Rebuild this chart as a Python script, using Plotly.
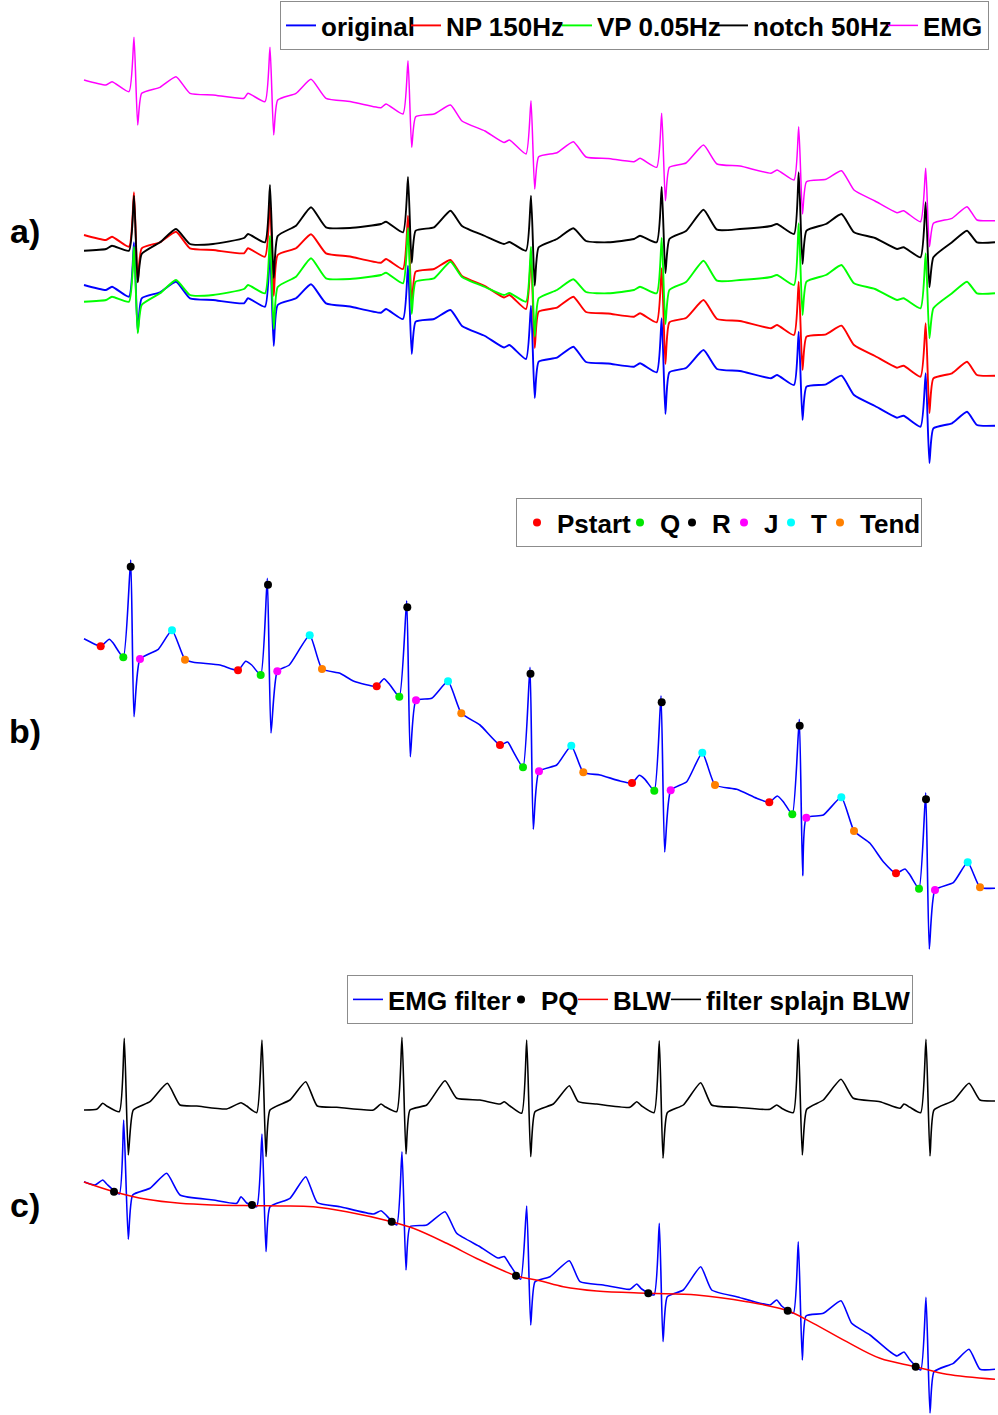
import plotly.graph_objects as go

# ---------------- Panel a) : raw + filtered signals (time in s, amplitude in mV) -------------
t_a = [0.00,
       0.22, 0.28, 0.45, 0.50, 0.537, 0.577, 0.76, 0.92, 1.06, 1.29,
       1.60, 1.64, 1.81, 1.86, 1.897, 1.937, 2.12, 2.27, 2.42, 2.66,
       2.97, 3.02, 3.19, 3.24, 3.277, 3.317, 3.50, 3.665, 3.78, 4.01,
       4.20, 4.255, 4.42, 4.47, 4.507, 4.547, 4.73, 4.893, 5.02, 5.24,
       5.50, 5.56, 5.727, 5.777, 5.814, 5.854, 6.02, 6.195, 6.33, 6.56,
       6.87, 6.93, 7.10, 7.147, 7.185, 7.225, 7.42, 7.575, 7.70, 7.91,
       8.13, 8.195, 8.365, 8.417, 8.454, 8.494, 8.68, 8.83, 8.93, 9.11]

original = [-0.35,
            -0.40, -0.367, -0.467, 0.077, -0.82, -0.483, -0.423, -0.317, -0.483, -0.50,
            -0.533, -0.483, -0.567, -0.023, -0.96, -0.55, -0.483, -0.343, -0.533, -0.565,
            -0.627, -0.59, -0.69, -0.157, -1.04, -0.717, -0.69, -0.60, -0.76, -0.86,
            -0.975, -0.95, -1.09, -0.557, -1.48, -1.117, -1.077, -0.967, -1.12, -1.135,
            -1.167, -1.133, -1.223, -0.683, -1.64, -1.223, -1.18, -1.00, -1.19, -1.21,
            -1.283, -1.25, -1.35, -0.817, -1.70, -1.367, -1.343, -1.257, -1.45, -1.56,
            -1.677, -1.657, -1.767, -1.233, -2.13, -1.783, -1.733, -1.617, -1.75, -1.757]

np_150hz = [0.15,
            0.10, 0.133, 0.033, 0.577, -0.32, 0.017, 0.077, 0.183, 0.017, 0.00,
            -0.033, 0.017, -0.067, 0.477, -0.46, -0.05, 0.017, 0.157, -0.033, -0.065,
            -0.127, -0.09, -0.19, 0.343, -0.54, -0.217, -0.19, -0.10, -0.26, -0.36,
            -0.475, -0.45, -0.59, -0.057, -0.98, -0.617, -0.577, -0.467, -0.62, -0.635,
            -0.667, -0.633, -0.723, -0.183, -1.14, -0.723, -0.68, -0.50, -0.69, -0.71,
            -0.783, -0.75, -0.85, -0.317, -1.20, -0.867, -0.843, -0.757, -0.95, -1.06,
            -1.177, -1.157, -1.267, -0.733, -1.63, -1.283, -1.233, -1.117, -1.25, -1.257]

vp_005hz = [-0.517,
            -0.50, -0.467, -0.517, 0.033, -0.833, -0.55, -0.433, -0.30, -0.45, -0.45,
            -0.39, -0.35, -0.433, 0.14, -0.79, -0.37, -0.267, -0.083, -0.283, -0.29,
            -0.25, -0.227, -0.333, 0.22, -0.64, -0.317, -0.283, -0.117, -0.27, -0.37,
            -0.45, -0.43, -0.517, 0.033, -0.867, -0.483, -0.40, -0.293, -0.42, -0.433,
            -0.40, -0.367, -0.433, 0.12, -0.74, -0.40, -0.32, -0.107, -0.307, -0.30,
            -0.27, -0.25, -0.35, 0.267, -0.65, -0.317, -0.25, -0.15, -0.333, -0.39,
            -0.50, -0.483, -0.583, -0.033, -0.883, -0.583, -0.433, -0.317, -0.433, -0.433]

notch_50hz = [-0.007,
              0.01, 0.043, -0.007, 0.543, -0.323, -0.04, 0.077, 0.21, 0.06, 0.06,
              0.12, 0.16, 0.077, 0.65, -0.28, 0.14, 0.243, 0.427, 0.227, 0.22,
              0.26, 0.283, 0.177, 0.73, -0.13, 0.193, 0.227, 0.393, 0.24, 0.14,
              0.06, 0.08, -0.007, 0.543, -0.357, 0.027, 0.11, 0.217, 0.09, 0.077,
              0.11, 0.143, 0.077, 0.63, -0.23, 0.11, 0.19, 0.403, 0.203, 0.21,
              0.24, 0.26, 0.16, 0.777, -0.14, 0.193, 0.26, 0.36, 0.177, 0.12,
              0.01, 0.027, -0.073, 0.477, -0.373, -0.073, 0.077, 0.193, 0.077, 0.077]

emg = [1.70,
       1.65, 1.683, 1.583, 2.127, 1.25, 1.567, 1.627, 1.733, 1.567, 1.55,
       1.517, 1.567, 1.483, 2.027, 1.15, 1.50, 1.567, 1.707, 1.517, 1.485,
       1.423, 1.46, 1.36, 1.893, 1.027, 1.333, 1.36, 1.45, 1.29, 1.19,
       1.075, 1.10, 0.96, 1.493, 0.61, 0.933, 0.973, 1.083, 0.93, 0.915,
       0.883, 0.917, 0.827, 1.367, 0.493, 0.827, 0.87, 1.05, 0.86, 0.84,
       0.767, 0.80, 0.70, 1.233, 0.36, 0.683, 0.707, 0.793, 0.60, 0.49,
       0.373, 0.393, 0.283, 0.817, 0.033, 0.267, 0.317, 0.433, 0.30, 0.293]

# ---------------- Panel b) : detected fiducial points -------------
t_b = [0.00, 0.127, 0.167, 0.253, 0.293, 0.393, 0.467, 0.50, 0.56, 0.743, 0.88, 1.01, 1.093, 1.36,
       1.54, 1.617, 1.677, 1.767, 1.833, 1.87, 1.933, 2.053, 2.257, 2.38, 2.56, 2.693,
       2.927, 3.00, 3.06, 3.153, 3.227, 3.263, 3.32, 3.477, 3.64, 3.773, 3.96,
       4.16, 4.237, 4.293, 4.39, 4.46, 4.493, 4.55, 4.727, 4.873, 4.993, 5.16, 5.36,
       5.48, 5.553, 5.61, 5.703, 5.77, 5.807, 5.867, 6.027, 6.183, 6.31, 6.527, 6.727,
       6.853, 6.933, 6.993, 7.083, 7.153, 7.187, 7.223, 7.393, 7.573, 7.70, 7.86, 7.993,
       8.12, 8.21, 8.26, 8.35, 8.417, 8.453, 8.51, 8.693, 8.837, 8.96, 9.11]
ecg_b = [0.613, 0.55, 0.537, 0.607, 0.567, 0.427, 1.40, -0.167, 0.41, 0.507, 0.697, 0.403, 0.377, 0.35,
         0.297, 0.387, 0.35, 0.25, 1.217, -0.33, 0.287, 0.35, 0.647, 0.31, 0.267, 0.19,
         0.137, 0.213, 0.15, 0.033, 0.993, -0.567, -0.003, 0.017, 0.187, -0.133, -0.25,
         -0.45, -0.42, -0.517, -0.673, 0.327, -1.293, -0.713, -0.65, -0.457, -0.723, -0.75, -0.81,
         -0.83, -0.753, -0.793, -0.907, 0.043, -1.52, -0.903, -0.817, -0.527, -0.85, -0.893, -0.983,
         -1.023, -0.96, -1.017, -1.143, -0.193, -1.757, -1.177, -1.15, -0.973, -1.31, -1.433, -1.617,
         -1.733, -1.69, -1.75, -1.887, -0.927, -2.49, -1.90, -1.827, -1.623, -1.873, -1.883]

pstart_t = [0.167, 1.54, 2.927, 4.16, 5.48, 6.853, 8.12]
pstart_v = [0.537, 0.297, 0.137, -0.45, -0.83, -1.023, -1.733]
q_t = [0.393, 1.767, 3.153, 4.39, 5.703, 7.083, 8.35]
q_v = [0.427, 0.25, 0.033, -0.673, -0.907, -1.143, -1.887]
r_t = [0.467, 1.84, 3.233, 4.465, 5.777, 7.157, 8.42]
r_v = [1.333, 1.153, 0.927, 0.263, -0.023, -0.257, -0.993]
j_t = [0.56, 1.933, 3.32, 4.55, 5.867, 7.223, 8.51]
j_v = [0.41, 0.287, -0.003, -0.713, -0.903, -1.177, -1.90]
tpk_t = [0.88, 2.257, 3.64, 4.873, 6.183, 7.573, 8.837]
tpk_v = [0.697, 0.647, 0.187, -0.457, -0.527, -0.973, -1.623]
tend_t = [1.01, 2.38, 3.773, 4.993, 6.31, 7.70, 8.96]
tend_v = [0.403, 0.31, -0.133, -0.723, -0.85, -1.31, -1.873]

# ---------------- Panel c) : baseline wander removal -------------
t_c_clean = [0.00, 0.127, 0.187, 0.227, 0.353, 0.403, 0.443, 0.493, 0.66, 0.833, 0.96, 1.127, 1.427,
             1.57, 1.627, 1.727, 1.78, 1.82, 1.86, 2.06, 2.217, 2.333, 2.527, 2.893,
             2.97, 3.01, 3.127, 3.18, 3.22, 3.26, 3.427, 3.61, 3.727, 3.96, 4.16,
             4.203, 4.26, 4.377, 4.427, 4.467, 4.51, 4.693, 4.853, 4.943, 5.127, 5.46,
             5.527, 5.577, 5.70, 5.753, 5.79, 5.833, 5.993, 6.167, 6.277, 6.527, 6.86,
             6.927, 6.977, 7.093, 7.143, 7.183, 7.227, 7.393, 7.57, 7.693, 7.96, 8.16,
             8.20, 8.26, 8.367, 8.42, 8.46, 8.50, 8.693, 8.85, 8.96, 9.11]
spline_filtered = [0.90, 0.907, 0.967, 0.94, 0.883, 1.617, 0.45, 0.90, 0.983, 1.167, 0.95, 0.94, 0.91,
                   0.973, 0.94, 0.873, 1.60, 0.433, 0.90, 1.00, 1.183, 0.94, 0.927, 0.90,
                   0.96, 0.933, 0.883, 1.627, 0.46, 0.90, 0.95, 1.193, 1.017, 1.00, 0.96,
                   0.983, 0.94, 0.867, 1.60, 0.433, 0.883, 0.96, 1.143, 0.983, 0.96, 0.927,
                   0.983, 0.94, 0.873, 1.593, 0.417, 0.873, 0.95, 1.173, 0.95, 0.927, 0.907,
                   0.95, 0.917, 0.873, 1.607, 0.45, 0.907, 1.00, 1.207, 1.017, 0.983, 0.917,
                   0.96, 0.927, 0.873, 1.607, 0.44, 0.90, 0.993, 1.167, 1.00, 0.99]

t_c_emg = [0.00, 0.11, 0.187, 0.227, 0.353, 0.397, 0.443, 0.487, 0.66, 0.827, 0.96, 1.293, 1.527,
           1.57, 1.627, 1.727, 1.78, 1.82, 1.86, 2.06, 2.217, 2.333, 2.56, 2.893,
           2.97, 3.01, 3.127, 3.18, 3.22, 3.26, 3.427, 3.61, 3.727, 3.96,
           4.14, 4.203, 4.26, 4.367, 4.427, 4.467, 4.51, 4.66, 4.853, 4.96, 5.193, 5.46,
           5.527, 5.577, 5.70, 5.753, 5.79, 5.833, 5.993, 6.167, 6.277, 6.527, 6.86,
           6.927, 6.977, 7.093, 7.143, 7.183, 7.22, 7.393, 7.57, 7.677, 7.86, 8.06,
           8.13, 8.20, 8.26, 8.367, 8.42, 8.46, 8.50, 8.693, 8.85, 8.96, 9.11]
emg_filtered = [0.183, 0.15, 0.20, 0.16, 0.06, 0.80, -0.393, 0.05, 0.117, 0.267, 0.05, 0.00, -0.033,
                0.033, -0.03, -0.067, 0.66, -0.517, -0.067, 0.017, 0.233, -0.027, -0.067, -0.14,
                -0.107, -0.14, -0.25, 0.483, -0.70, -0.267, -0.25, -0.117, -0.333, -0.467,
                -0.58, -0.565, -0.65, -0.793, -0.06, -1.25, -0.817, -0.767, -0.607, -0.817, -0.85, -0.893,
                -0.84, -0.89, -0.95, -0.233, -1.417, -0.967, -0.90, -0.667, -0.90, -0.967, -1.05,
                -1.00, -1.06, -1.133, -0.417, -1.60, -1.16, -1.133, -1.007, -1.233, -1.35, -1.517,
                -1.56, -1.52, -1.60, -1.70, -0.973, -2.13, -1.717, -1.633, -1.493, -1.693, -1.693]

t_c_blw = [0.00, 0.30, 0.627, 0.96, 1.293, 1.68, 1.96, 2.293, 2.627, 3.077, 3.293, 3.627, 3.96,
           4.32, 4.56, 4.793, 5.127, 5.643, 6.127, 6.627, 7.037, 7.293, 7.627, 7.96, 8.317, 8.627, 9.11]
blw = [0.18, 0.083, 0.007, -0.033, -0.05, -0.057, -0.06, -0.067, -0.117, -0.217, -0.283, -0.433, -0.60,
       -0.757, -0.807, -0.867, -0.91, -0.933, -0.95, -1.017, -1.107, -1.233, -1.417, -1.583, -1.667,
       -1.743, -1.793]

pq_t = [0.30, 1.68, 3.077, 4.32, 5.643, 7.037, 8.317]
pq_v = [0.083, -0.05, -0.217, -0.757, -0.933, -1.107, -1.667]

for a, b in [(t_a, original), (t_a, np_150hz), (t_a, vp_005hz), (t_a, notch_50hz), (t_a, emg),
             (t_b, ecg_b), (t_c_clean, spline_filtered), (t_c_emg, emg_filtered), (t_c_blw, blw)]:
    assert len(a) == len(b), (len(a), len(b))

# ---------------- figure -------------
W, H = 998, 1415
fig = go.Figure()
SM = 0.5  # light smoothing of the signal polylines

def line(x, y, name, color, yaxis, legend, width=1.5, smooth=SM, rank=1000, lw=None):
    fig.add_trace(go.Scatter(x=x, y=y, mode="lines", name=name, yaxis=yaxis, legend=legend,
                             line=dict(color=color, width=width, shape="spline", smoothing=smooth),
                             legendrank=rank, legendwidth=lw))

def dots(x, y, name, color, yaxis, legend, size=8, rank=1000, lw=None):
    fig.add_trace(go.Scatter(x=x, y=y, mode="markers", name=name, yaxis=yaxis, legend=legend,
                             marker=dict(color=color, size=size),
                             legendrank=rank, legendwidth=lw))

# a)
line(t_a, original, "original", "#0000ff", "y", "legend", width=1.9, lw=80)
line(t_a, np_150hz, "NP 150Hz", "#ff0000", "y", "legend", width=1.9, lw=106)
line(t_a, vp_005hz, "VP 0.05Hz", "#00ff00", "y", "legend", width=1.9, lw=111)
line(t_a, notch_50hz, "notch 50Hz", "#000000", "y", "legend", width=1.9, lw=125)
line(t_a, emg, "EMG", "#ff00ff", "y", "legend", width=1.5, lw=60)

# b)
fig.add_trace(go.Scatter(x=t_b, y=ecg_b, mode="lines", yaxis="y2", showlegend=False,
                         line=dict(color="#0000ff", width=1.6, shape="spline", smoothing=SM)))
dots(pstart_t, pstart_v, "Pstart", "#ff0000", "y2", "legend2", lw=58)
dots(q_t, q_v, "Q", "#00e600", "y2", "legend2", lw=7)
dots(r_t, r_v, "R", "#000000", "y2", "legend2", lw=7)
dots(j_t, j_v, "J", "#ff00ff", "y2", "legend2", lw=2)
dots(tpk_t, tpk_v, "T", "#00ffff", "y2", "legend2", lw=4)
dots(tend_t, tend_v, "Tend", "#ff8000", "y2", "legend2", lw=56)

# c)
line(t_c_clean, spline_filtered, "filter splajn BLW", "#000000", "y3", "legend3", width=1.6, rank=4, lw=201)
line(t_c_emg, emg_filtered, "EMG filter", "#0000ff", "y3", "legend3", width=1.6, rank=1, lw=108)
line(t_c_blw, blw, "BLW", "#ff0000", "y3", "legend3", width=1.5, smooth=1.0, rank=3, lw=48)
dots(pq_t, pq_v, "PQ", "#000000", "y3", "legend3", size=8, rank=2, lw=27)

def ydom(top_px, bot_px):
    return [1 - bot_px / H, 1 - top_px / H]

hidden = dict(visible=False, showgrid=False, zeroline=False, fixedrange=True)
leg_font = dict(family="Liberation Sans, Arial, sans-serif", size=26, color="black", weight="bold")
leg_common = dict(orientation="h", xanchor="right", yanchor="top", bgcolor="white",
                  bordercolor="#8c8c8c", borderwidth=1, font=leg_font, itemwidth=30,
                  tracegroupgap=0)

fig.update_layout(
    width=W, height=H, autosize=False,
    margin=dict(l=0, r=0, t=0, b=0, pad=0),
    paper_bgcolor="white", plot_bgcolor="white",
    xaxis=dict(domain=[83 / W, 995 / W], range=[-0.01, 9.11], **hidden),
    yaxis=dict(domain=ydom(30, 470), range=[-2.20, 2.20], anchor="x", **hidden),
    yaxis2=dict(domain=ydom(550, 960), range=[-2.60, 1.50], anchor="x", **hidden),
    yaxis3=dict(domain=ydom(1025, 1415), range=[-2.15, 1.75], anchor="x", **hidden),
    legend=dict(x=989 / W, y=1 - 1 / H, **leg_common),
    legend2=dict(x=922 / W, y=1 - 498 / H, **leg_common),
    legend3=dict(x=913 / W, y=1 - 975 / H, **leg_common),
    showlegend=True,
)

for txt, ypx in [("a)", 231), ("b)", 731), ("c)", 1205)]:
    fig.add_annotation(text=txt, x=25 / W, y=1 - ypx / H, xref="paper", yref="paper",
                       xanchor="center", yanchor="middle", showarrow=False,
                       font=dict(family="Liberation Sans, Arial, sans-serif", size=34,
                                 color="black", weight="bold"))

fig.write_html("out.html")
